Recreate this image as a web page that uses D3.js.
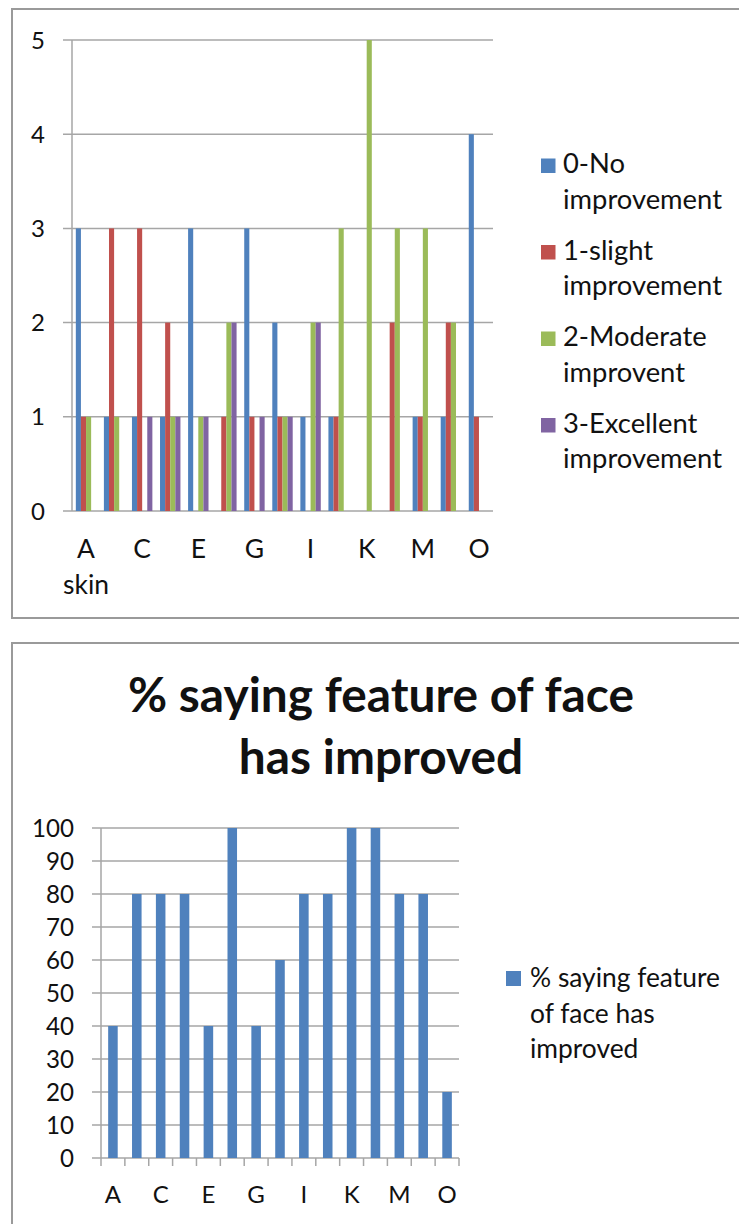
<!DOCTYPE html>
<html>
<head>
<meta charset="utf-8">
<script src="https://cdn.jsdelivr.net/npm/d3@7"></script>
<style>
  html, body { margin: 0; padding: 0; background: #fff; }
  svg { display: block; }
</style>
</head>
<body>
<svg id="chart" width="739" height="1224"></svg>
<script>
// ---------- DATA ----------
const categories = ["A skin","B","C","D","E","F","G","H","I","J","K","L","M","N","O"];
const categories2 = ["A","B","C","D","E","F","G","H","I","J","K","L","M","N","O"];
const seriesNames = ["0-No improvement","1-slight improvement","2-Moderate improvent","3-Excellent improvement"];
const noImprovement   = [3,1,1,1,3,0,3,2,1,1,0,0,1,1,4];
const slightImprove   = [1,3,3,2,0,1,1,1,0,1,0,2,1,2,1];
const moderateImprove = [1,1,0,1,1,2,0,1,2,3,5,3,3,2,0];
const excellentImprove= [0,0,1,1,1,2,1,1,2,0,0,0,0,0,0];
const yTicks1 = [0,1,2,3,4,5];

const pctTitle = "% saying feature of face has improved";
const pctImproved = [40,80,80,80,40,100,40,60,80,80,100,100,80,80,20];
const yTicks2 = [0,10,20,30,40,50,60,70,80,90,100];

// ---------- STYLE ----------
const F = "Lato, 'Open Sans', sans-serif";
const colors = ["#4f81bd","#c0504d","#9bbb59","#8064a2"];
const gridColor = "#a6a6a6";
const frameColor = "#9a9a9a";
const textColor = "#111";

const svg = d3.select("#chart");

function fit(str, weight, target) {
  const t = svg.append("text").attr("font-family", F).attr("font-weight", weight)
    .attr("font-size", 100).text(str);
  const w = t.node().getComputedTextLength();
  t.remove();
  return 100 * target / w;
}

// frames
svg.append("rect").attr("x", 12).attr("y", 9).attr("width", 760).attr("height", 609)
  .attr("fill", "none").attr("stroke", frameColor).attr("stroke-width", 2);
svg.append("rect").attr("x", 12).attr("y", 643).attr("width", 760).attr("height", 700)
  .attr("fill", "none").attr("stroke", frameColor).attr("stroke-width", 2);

// ================= CHART 1 =================
(function () {
  const left = 72, right = 493, top = 40, bottom = 511;
  const x0 = d3.scaleBand().domain(categories).range([left, right]).paddingInner(0.6).paddingOuter(0.3);
  // Excel gap width 150% -> band with 4 bars; use explicit band computing
  const xc = d3.scaleBand().domain(categories).range([left, right]).padding(0);
  const x1 = d3.scaleBand().domain(d3.range(4)).range([0, xc.bandwidth() * 4 / 5.5]).padding(0);
  const y = d3.scaleLinear().domain([0, 5]).range([bottom, top]);
  const offset = xc.bandwidth() * 0.75 / 5.5;

  const g = svg.append("g");
  // gridlines
  g.append("g").selectAll("line").data(yTicks1).join("line")
    .attr("x1", left - 9).attr("x2", right)
    .attr("y1", d => y(d)).attr("y2", d => y(d))
    .attr("stroke", gridColor).attr("stroke-width", 1.5);
  // y axis line
  g.append("line").attr("x1", left).attr("x2", left).attr("y1", top).attr("y2", bottom)
    .attr("stroke", gridColor).attr("stroke-width", 1.5);

  const allSeries = [noImprovement, slightImprove, moderateImprove, excellentImprove];
  allSeries.forEach((vals, si) => {
    g.append("g").selectAll("rect").data(vals).join("rect")
      .attr("x", (d, i) => xc(categories[i]) + offset + x1(si))
      .attr("width", x1.bandwidth())
      .attr("y", d => y(d))
      .attr("height", d => y(0) - y(d))
      .attr("fill", colors[si]);
  });

  // y labels
  const ys = 24;
  g.append("g").selectAll("text").data(yTicks1).join("text")
    .attr("x", 45).attr("y", d => y(d)).attr("dy", "0.36em")
    .attr("text-anchor", "end").attr("font-family", F).attr("font-size", ys)
    .attr("fill", textColor).text(d => d);

  // x labels (every other)
  const xs = fit("skin", 400, 46);
  categories.forEach((c, i) => {
    if (i % 2 !== 0) return;
    const words = c.split(" ");
    const t = g.append("text").attr("font-family", F).attr("font-size", xs)
      .attr("fill", textColor).attr("text-anchor", "middle");
    words.forEach((w, k) => {
      t.append("tspan").attr("x", xc(c) + xc.bandwidth() / 2).attr("y", 558 + k * 36).text(w);
    });
  });

  // legend
  const ls = fit("improvement", 400, 159);
  seriesNames.forEach((name, i) => {
    const by = 173 + i * 86.5;
    const parts = [name.slice(0, name.indexOf(" ")), name.slice(name.indexOf(" ") + 1)];
    g.append("rect").attr("x", 541).attr("y", by - 14.5).attr("width", 14.5).attr("height", 14.5)
      .attr("fill", colors[i]);
    const t = g.append("text").attr("font-family", F).attr("font-size", ls).attr("fill", textColor);
    parts.forEach((p, k) => t.append("tspan").attr("x", 563).attr("y", by + k * 35.5).text(p));
  });
})();

// ================= CHART 2 =================
(function () {
  const left = 101, right = 459, top = 828, bottom = 1158;
  const x = d3.scaleBand().domain(categories2).range([left, right]).paddingInner(0.6).paddingOuter(0.3);
  const xc = d3.scaleBand().domain(categories2).range([left, right]).padding(0);
  const y = d3.scaleLinear().domain([0, 100]).range([bottom, top]);
  const g = svg.append("g");

  // title
  const words = pctTitle.split(" ");
  const line1 = words.slice(0, 5).join(" "), line2 = words.slice(5).join(" ");
  const ts = fit(line1, 700, 506);
  const tt = g.append("text").attr("font-family", F).attr("font-weight", 700)
    .attr("font-size", ts).attr("text-anchor", "middle").attr("fill", textColor);
  tt.append("tspan").attr("x", 381).attr("y", 712).text(line1);
  tt.append("tspan").attr("x", 381).attr("y", 774).text(line2);

  // gridlines
  g.append("g").selectAll("line").data(yTicks2).join("line")
    .attr("x1", left - 9).attr("x2", right)
    .attr("y1", d => y(d)).attr("y2", d => y(d))
    .attr("stroke", gridColor).attr("stroke-width", 1.5);
  g.append("line").attr("x1", left).attr("x2", left).attr("y1", top).attr("y2", bottom)
    .attr("stroke", gridColor).attr("stroke-width", 1.5);
  // x ticks at boundaries
  const bounds = categories2.map(c => xc(c)).concat([right]);
  g.append("g").selectAll("line").data(bounds).join("line")
    .attr("x1", d => d).attr("x2", d => d).attr("y1", bottom).attr("y2", bottom + 8)
    .attr("stroke", gridColor).attr("stroke-width", 1.5);

  // bars
  g.append("g").selectAll("rect").data(pctImproved).join("rect")
    .attr("x", (d, i) => x(categories2[i]))
    .attr("width", x.bandwidth())
    .attr("y", d => y(d))
    .attr("height", d => y(0) - y(d))
    .attr("fill", colors[0]);

  // y labels
  const ys = fit("90", 400, 28);
  g.append("g").selectAll("text").data(yTicks2).join("text")
    .attr("x", 74).attr("y", d => y(d)).attr("dy", "0.36em")
    .attr("text-anchor", "end").attr("font-family", F).attr("font-size", ys)
    .attr("fill", textColor).text(d => d);

  // x labels
  g.append("g").selectAll("text").data(categories2.filter((c, i) => i % 2 === 0)).join("text")
    .attr("x", d => xc(d) + xc.bandwidth() / 2).attr("y", 1203)
    .attr("text-anchor", "middle").attr("font-family", F).attr("font-size", 24)
    .attr("fill", textColor).text(d => d);

  // legend
  const ls = fit("% saying feature", 400, 190);
  const lg = ["% saying feature", "of face has", "improved"];
  g.append("rect").attr("x", 506).attr("y", 971).attr("width", 15).attr("height", 15).attr("fill", colors[0]);
  const t = g.append("text").attr("font-family", F).attr("font-size", ls).attr("fill", textColor);
  lg.forEach((p, k) => t.append("tspan").attr("x", 530).attr("y", 987 + k * 35.5).text(p));
})();
</script>
</body>
</html>
